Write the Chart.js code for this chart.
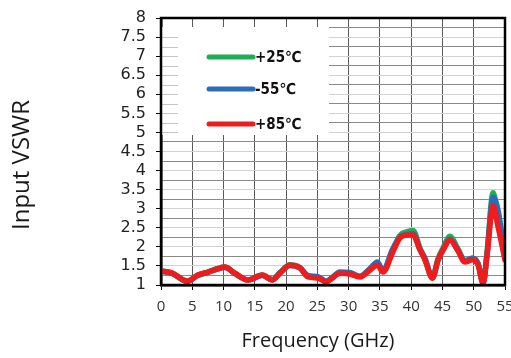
<!DOCTYPE html>
<html>
<head>
<meta charset="utf-8">
<script src="https://cdn.jsdelivr.net/npm/chart.js@4"></script>
<style>
  html, body { margin: 0; padding: 0; background: #fff; }
  #wrap { width: 511px; height: 358px; }
</style>
</head>
<body>
<div id="wrap"><canvas id="vswrChart"></canvas></div>
<script>
// frequency points (GHz)
const freqGHz = [0, 1.8, 4.2, 5.9, 7.5, 9, 10.2, 11.8, 13.9, 16.2, 17.8, 19, 20.6, 22.2, 23.5, 25.1, 26.4, 27.4, 28.6, 30.2,
    31.8, 33.4, 34.6, 35.5, 37, 38.2, 39.4, 40.3, 41.4, 42.2, 43.4, 44.3, 45.1, 46.2, 47.4, 48.6, 49.8, 50.7, 51.5, 52.1,
    53.1, 53.9, 55];

const vswrPlus25 = [1.37, 1.31, 1.1, 1.26, 1.34, 1.43, 1.47, 1.31, 1.13, 1.26, 1.14, 1.31, 1.53, 1.46, 1.23, 1.2, 1.09, 1.19, 1.32, 1.3,
    1.22, 1.4, 1.56, 1.36, 1.88, 2.3, 2.4, 2.43, 1.97, 1.68, 1.19, 1.69, 1.97, 2.28, 1.97, 1.63, 1.7, 1.55, 1.06, 1.8,
    3.42, 2.7, 1.66];

const vswrMinus55 = [1.36, 1.3, 1.1, 1.25, 1.33, 1.42, 1.46, 1.3, 1.13, 1.25, 1.14, 1.32, 1.51, 1.45, 1.25, 1.22, 1.1, 1.2, 1.34, 1.33,
    1.23, 1.43, 1.6, 1.38, 1.93, 2.26, 2.33, 2.35, 1.94, 1.7, 1.2, 1.65, 1.92, 2.2, 1.94, 1.64, 1.7, 1.56, 1.04, 1.75,
    3.3, 2.95, 1.7];

const vswrPlus85 = [1.37, 1.31, 1.1, 1.26, 1.34, 1.42, 1.47, 1.31, 1.13, 1.26, 1.13, 1.31, 1.52, 1.45, 1.21, 1.18, 1.08, 1.18, 1.31, 1.29,
    1.21, 1.39, 1.52, 1.34, 1.84, 2.23, 2.31, 2.31, 1.92, 1.66, 1.18, 1.66, 1.92, 2.18, 1.92, 1.6, 1.66, 1.52, 1.05, 1.73,
    3.08, 2.52, 1.66];

const seriesLabels = ["+25℃", "-55℃", "+85℃"];
const seriesColors = ["#1fae55", "#2c6db8", "#ee1c1c"];

const toPoints = (values) => values.map((v, i) => ({ x: freqGHz[i], y: v }));
const isHalf = (v) => Math.abs(v * 2 - Math.round(v * 2)) < 1e-6;

// white legend box drawn inside the plot, covering the grid
const insideLegend = {
    id: "insideLegend",
    beforeDatasetsDraw(chart) {
        const { ctx, chartArea } = chart;
        const left = chartArea.left + 1;
        const top = chartArea.top + 9;
        ctx.save();
        ctx.fillStyle = "#fff";
        ctx.fillRect(left, top, 167, 108);
        // little grid stubs along the axis
        const y = chart.scales.y;
        ctx.strokeStyle = "#c4c4c4";
        ctx.lineWidth = 1;
        for (let v = 5; v <= 7.5; v += 0.25) {
            const py = Math.round(y.getPixelForValue(v)) + 0.5;
            ctx.beginPath();
            ctx.moveTo(left, py);
            ctx.lineTo(left + 16, py);
            ctx.stroke();
        }
        const rows = [30, 62, 97];
        chart.data.datasets.forEach((ds, i) => {
            const ry = top + rows[i];
            ctx.strokeStyle = ds.borderColor;
            ctx.lineWidth = 5;
            ctx.lineCap = "round";
            ctx.beginPath();
            ctx.moveTo(left + 47, ry);
            ctx.lineTo(left + 91, ry);
            ctx.stroke();
            ctx.fillStyle = "#111";
            ctx.font = "bold 15px 'Liberation Sans Narrow', 'DejaVu Sans Condensed', sans-serif";
            ctx.textBaseline = "middle";
            ctx.fillText(ds.label, left + 93, ry + 1);
        });
        ctx.restore();
    },
    afterDatasetsDraw(chart) {
        const { ctx, chartArea } = chart;
        ctx.save();
        ctx.strokeStyle = "#000";
        ctx.lineWidth = 2.5;
        ctx.strokeRect(chartArea.left, chartArea.top, chartArea.right - chartArea.left, chartArea.bottom - chartArea.top);
        ctx.restore();
    }
};

// axis titles placed where the reference has them
const axisTitles = {
    id: "axisTitles",
    afterDraw(chart) {
        const { ctx } = chart;
        ctx.save();
        ctx.fillStyle = "#1a1a1a";
        ctx.textAlign = "center";
        ctx.textBaseline = "middle";
        ctx.font = "20px 'Open Sans', sans-serif";
        ctx.fillText("Frequency (GHz)", 318, 341);
        ctx.translate(22, 165);
        ctx.rotate(-Math.PI / 2);
        ctx.font = "24px 'Open Sans', sans-serif";
        ctx.fillText("Input VSWR", 0, 0);
        ctx.restore();
    }
};

const makeDataset = (values, i, order) => ({
    label: seriesLabels[i],
    data: toPoints(values),
    borderColor: seriesColors[i],
    backgroundColor: seriesColors[i],
    borderWidth: 5.5,
    pointRadius: 0,
    tension: 0.4,
    cubicInterpolationMode: "monotone",
    borderCapStyle: "round",
    borderJoinStyle: "round",
    order
});

new Chart(document.getElementById("vswrChart"), {
    type: "line",
    data: {
        datasets: [
            makeDataset(vswrPlus25, 0, 2),
            makeDataset(vswrMinus55, 1, 1),
            makeDataset(vswrPlus85, 2, 0)
        ]
    },
    options: {
        responsive: true,
        maintainAspectRatio: false,
        animation: false,
        layout: { padding: { top: 18, right: 6, left: 0, bottom: 0 } },
        plugins: { legend: { display: false }, tooltip: { enabled: false } },
        scales: {
            x: {
                type: "linear",
                min: 0,
                max: 55,
                afterFit: (scale) => {
                    scale.height = 73;
                    scale.paddingLeft = 0;
                    scale.paddingRight = 0;
                },
                ticks: {
                    stepSize: 5,
                    padding: 8,
                    color: "#333",
                    font: { family: "'Open Sans', sans-serif", size: 15 }
                },
                grid: { color: "#5a5a5a", tickColor: "#000", tickLength: 5, lineWidth: 1 },
                border: { color: "#000", width: 2.5 }
            },
            y: {
                min: 1,
                max: 8,
                afterFit: (scale) => {
                    scale.width = 161;
                    scale.paddingTop = 0;
                    scale.paddingBottom = 0;
                },
                ticks: {
                    stepSize: 0.25,
                    autoSkip: false,
                    padding: 10,
                    color: "#222",
                    font: { family: "'DejaVu Sans', sans-serif", size: 16 },
                    callback: (v) => (isHalf(v) ? String(v) : "")
                },
                grid: {
                    lineWidth: 1,
                    tickLength: 5,
                    color: (c) => (isHalf(c.tick.value) ? "#d2d2d2" : "#8a8a8a"),
                    tickColor: (c) => (isHalf(c.tick.value) ? "#000" : "rgba(0,0,0,0)")
                },
                border: { color: "#000", width: 2.5 }
            }
        }
    },
    plugins: [insideLegend, axisTitles]
});
</script>
</body>
</html>
